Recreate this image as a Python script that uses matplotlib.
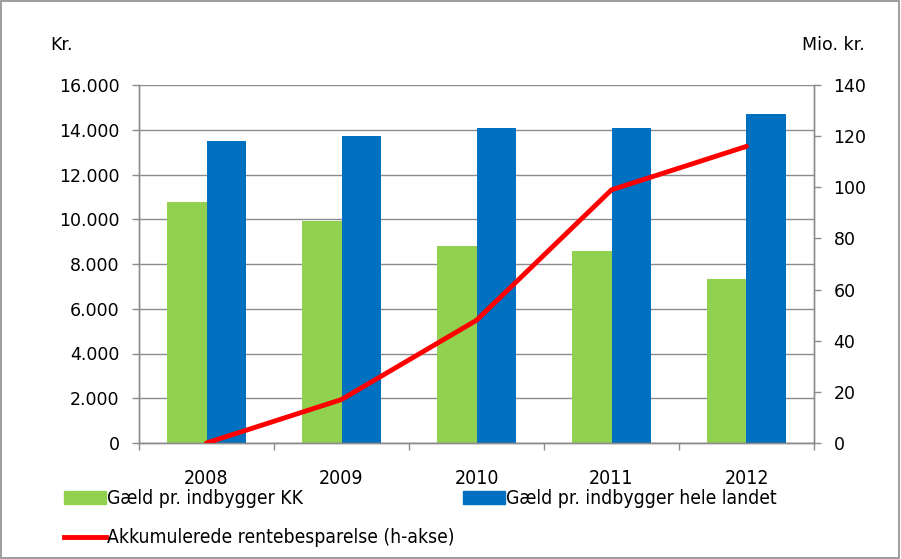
import matplotlib.pyplot as plt
import numpy as np
from matplotlib.patches import Patch, Rectangle
from matplotlib.lines import Line2D

years = ['2008', '2009', '2010', '2011', '2012']
gaeld_kk = [10750, 9900, 8800, 8600, 7350]
gaeld_landet = [13500, 13700, 14100, 14100, 14700]
rentebesparelse = [0, 17, 48, 99, 116]

plt.rcParams['font.family'] = ['DejaVu Sans']
fs = 12.5
fs_cond = 13.9
grey = '#8c8c8c'

fig = plt.figure(figsize=(9.01, 5.59), dpi=100)
ax = fig.add_axes([139/901, 1-443/559, (814-139)/901, (443-85)/559])
ax2 = ax.twinx()

x = np.arange(len(years))
w = 0.29
ax.bar(x - w/2, gaeld_kk, w, color='#92d050', zorder=2)
ax.bar(x + w/2, gaeld_landet, w, color='#0070c0', zorder=2)
ax2.plot(x, rentebesparelse, color='#ff0000', lw=3.5, solid_capstyle='round', zorder=3)

ax.set_xlim(-0.5, len(years) - 0.5)
ax.set_ylim(0, 16000)
ax2.set_ylim(0, 140)

ax.set_yticks(range(0, 16001, 2000))
ax.set_yticklabels([f'{v:,}'.replace(',', '.') for v in range(0, 16001, 2000)], fontsize=fs)
ax2.set_yticks(range(0, 141, 20))
ax2.set_yticklabels([str(v) for v in range(0, 141, 20)], fontsize=fs)

ax.set_xticks(x)
ax.set_xticklabels(years, fontsize=14, fontstretch='condensed')
ax.set_xticks(np.arange(-0.5, len(years)), minor=True)
ax.tick_params(axis='x', which='major', length=0, pad=19)
ax.tick_params(axis='x', which='minor', length=5, color=grey, width=1)
ax.tick_params(axis='y', length=5, color=grey, width=1, pad=9)
ax2.tick_params(axis='y', length=5, color=grey, width=1, pad=9)

ax.grid(axis='y', color=grey, lw=1, zorder=0)
ax.set_axisbelow(True)
for a in (ax, ax2):
    a.spines['top'].set_visible(False)
    for s in ('left', 'right', 'bottom'):
        a.spines[s].set_color(grey)
        a.spines[s].set_linewidth(1)

fig.text(50/901, 1-45/559, 'Kr.', fontsize=fs, va='center', ha='left')
fig.text(865/901, 1-45/559, 'Mio. kr.', fontsize=fs, va='center', ha='right')

handles = [
    Patch(color='#92d050', label='Gæld pr. indbygger KK'),
    Line2D([], [], color='#ff0000', lw=3.5, label='Akkumulerede rentebesparelse (h-akse)'),
    Patch(color='#0070c0', label='Gæld pr. indbygger hele landet'),
]
fig.legend(handles=handles, loc='upper left', bbox_to_anchor=(64/901, 1-489/559),
           ncol=2, frameon=False, prop={'size': fs_cond, 'stretch': 'condensed'},
           handlelength=2.2, handleheight=0.67, handletextpad=0.05,
           columnspacing=0.4, labelspacing=1.05, borderpad=0, borderaxespad=0)

fig.patches.append(Rectangle((0.001, 0.001), 0.997, 0.997, transform=fig.transFigure,
                             fill=False, edgecolor=grey, lw=1.2))

fig.savefig('out.png', dpi=100)
